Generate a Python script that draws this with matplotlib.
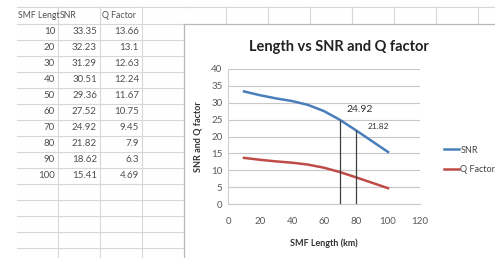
import matplotlib.pyplot as plt

# data from the sheet
length_km = [10, 20, 30, 40, 50, 60, 70, 80, 90, 100]
snr = [33.35, 32.23, 31.29, 30.51, 29.36, 27.52, 24.92, 21.82, 18.62, 15.41]
q_factor = [13.66, 13.1, 12.63, 12.24, 11.67, 10.75, 9.45, 7.9, 6.3, 4.69]
headers = ["SMF Lengt", "SNR", "Q Factor"]
marked_len = [70, 80]
marked_snr = [24.92, 21.82]

plt.rcParams['font.family'] = ['Lato', 'DejaVu Sans']

W, H = 495, 258
fig = plt.figure(figsize=(W / 100, H / 100), dpi=100)

# background "sheet" in pixel coords
bg = fig.add_axes([0, 0, 1, 1])
bg.set_xlim(0, W)
bg.set_ylim(H, 0)
bg.axis('off')

grid_c = '#d4d8dd'
col_x = [17, 58, 100, 142, 184]
row_top = 7
row_h = 16
n_rows = 16
# horizontal cell lines
for k in range(n_rows):
    y = 24 + row_h * (k - 1) if k > 0 else row_top
    bg.plot([17, 184], [y, y], color=grid_c, lw=0.8)
bg.plot([184, W], [row_top, row_top], color=grid_c, lw=0.8)
# vertical cell lines
for x in col_x[1:4]:
    bg.plot([x, x], [row_top, H], color=grid_c, lw=0.8)
for x in range(184 + 42, W, 42):
    bg.plot([x, x], [row_top, 24], color=grid_c, lw=0.8)
# chart box border
bg.plot([184, W], [24, 24], color='#b8b8b8', lw=0.9)
bg.plot([184, 184], [24, H], color='#b8b8b8', lw=0.9)
bg.add_patch(plt.Rectangle((184.5, 24.5), W - 184, H - 24, color='white', zorder=0.5))

txt_c = '#505050'
for j in range(3):
    bg.text(col_x[j] + 1.5, 16, headers[j], fontsize=6.3, color=txt_c, va='center', ha='left')
for i in range(len(length_km)):
    y = 32 + row_h * i
    bg.text(55, y, str(length_km[i]), fontsize=7, color=txt_c, va='center', ha='right')
    bg.text(97, y, f"{snr[i]:g}", fontsize=7, color=txt_c, va='center', ha='right')
    bg.text(139, y, f"{q_factor[i]:g}", fontsize=7, color=txt_c, va='center', ha='right')

# chart
ax = fig.add_axes([228 / W, (H - 204) / H, (420 - 228) / W, (204 - 69) / H])
l1, = ax.plot(length_km, snr, color='#4a7ebb', lw=1.8, label='SNR')
l2, = ax.plot(length_km, q_factor, color='#be4b48', lw=1.8, label='Q Factor')
ax.vlines(marked_len, 0, marked_snr, color='#404040', lw=0.9)
ax.text(marked_len[0] + 4, marked_snr[0] + 2.2, f"{marked_snr[0]:g}", fontsize=7.5, color='#333333')
ax.text(marked_len[1] + 7, marked_snr[1] + 0.3, f"{marked_snr[1]:g}", fontsize=6, color='#333333')

ax.set_xlim(0, 120)
ax.set_ylim(0, 40)
ax.set_xticks(range(0, 121, 20))
ax.set_yticks(range(0, 41, 5))
ax.grid(axis='y', color='#c8c8c8', lw=0.8)
ax.set_axisbelow(True)
for s in ['top', 'right']:
    ax.spines[s].set_visible(False)
ax.spines['left'].set_color('#d0d0d0')
ax.spines['bottom'].set_color('#c8c8c8')
ax.tick_params(length=0, labelsize=7, colors='#595959', pad=4)
ax.tick_params(axis='x', pad=9)
ax.set_title("Length vs SNR and Q factor", fontsize=10.5, fontweight='bold', color='#222222', pad=13, x=0.58)
ax.set_xlabel("SMF Length (km)", fontsize=6.5, fontweight='bold', color='#333333', labelpad=9)
ax.set_ylabel("SNR and Q factor", fontsize=6.5, fontweight='bold', color='#333333', labelpad=6)

fig.legend(handles=[l1, l2], loc='center left', bbox_to_anchor=(436 / W, 1 - 160 / H),
           frameon=False, fontsize=6.5, handlelength=1.7, handletextpad=0.1,
           labelspacing=1.2, labelcolor='#444444')

fig.savefig("out.png", dpi=100)
